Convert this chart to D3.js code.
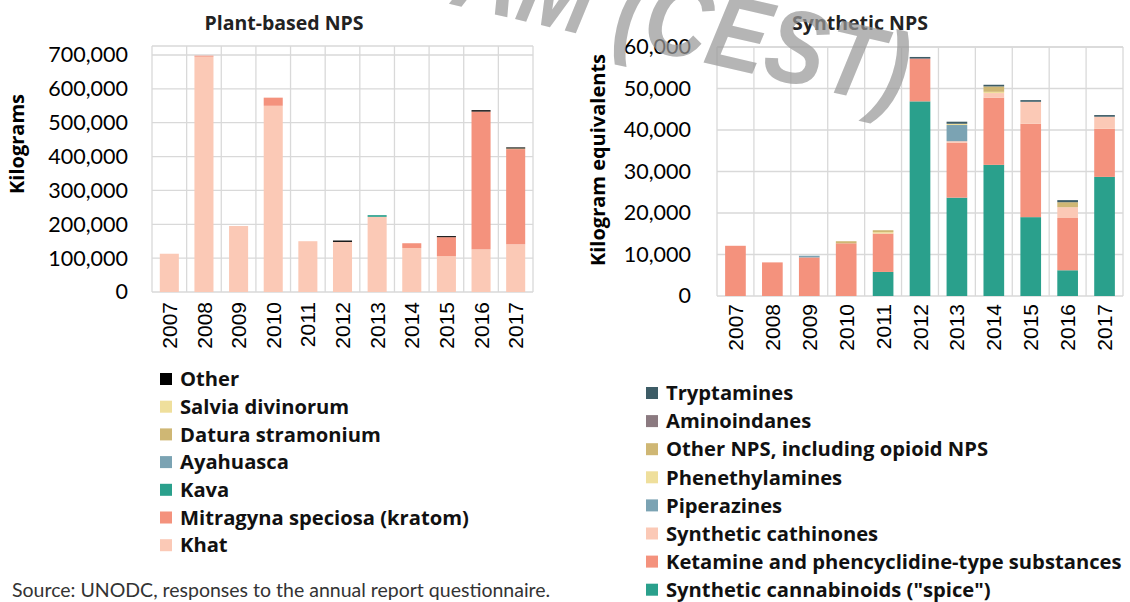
<!DOCTYPE html>
<html>
<head>
<meta charset="utf-8">
<style>
  body { margin: 0; background: white; font-family: "Open Sans", sans-serif; }
  svg { display: block; }
</style>
<script src="https://cdn.jsdelivr.net/npm/d3@7"></script>
</head>
<body>
<svg id="chart" width="1130" height="602"></svg>
<script>

let years = ["2007","2008","2009","2010","2011","2012","2013","2014","2015","2016","2017"]

// plant-based NPS, kilograms (stack order bottom -> top)
let plantNames = ["Khat","Mitragyna speciosa (kratom)","Kava","Ayahuasca","Datura stramonium","Salvia divinorum","Other"]
let khat      = [113000, 695000, 195000, 550000, 150000, 148000, 222000, 130000, 106000, 126000, 141000]
let kratom    = [0, 3000, 0, 24000, 0, 0, 0, 14000, 56000, 407000, 281000]
let kava      = [0, 0, 0, 0, 0, 0, 5000, 0, 0, 0, 0]
let ayahuasca = [0, 0, 0, 0, 0, 0, 0, 0, 0, 0, 0]
let datura    = [0, 0, 0, 0, 0, 0, 0, 0, 0, 0, 2000]
let salvia    = [0, 0, 0, 0, 0, 0, 0, 0, 0, 0, 0]
let plantOther= [0, 0, 0, 0, 0, 4000, 0, 0, 3000, 4000, 3000]
let plantTicks = [0, 100000, 200000, 300000, 400000, 500000, 600000, 700000]

// synthetic NPS, kilogram equivalents
let synthNames = ["Synthetic cannabinoids (\"spice\")","Ketamine and phencyclidine-type substances","Synthetic cathinones","Piperazines","Phenethylamines","Other NPS, including opioid NPS","Aminoindanes","Tryptamines"]
let spice        = [0, 0, 0, 0, 5800, 46900, 23700, 31600, 19000, 6200, 28700]
let ketamine     = [12100, 8100, 9300, 12700, 9250, 10200, 13200, 16200, 22500, 12600, 11600]
let cathinones   = [0, 0, 0, 0, 0, 0, 400, 1100, 5300, 2600, 2900]
let piperazines  = [0, 0, 400, 0, 0, 0, 3900, 0, 0, 0, 0]
let phenethyl    = [0, 0, 0, 0, 350, 0, 300, 300, 0, 0, 0]
let otherNps     = [0, 0, 0, 500, 450, 0, 0, 1300, 0, 1200, 0]
let aminoindanes = [0, 0, 0, 0, 0, 200, 0, 0, 0, 0, 0]
let tryptamines  = [0, 0, 0, 0, 0, 300, 500, 400, 400, 500, 400]
let synthTicks = [0, 10000, 20000, 30000, 40000, 50000, 60000]

let plantColors = ["#fbc9b6","#f4927d","#2aa08c","#7ba3b3","#cfb774","#efdf9c","#000000"]
let synthColors = ["#2aa08c","#f4927d","#fbc9b6","#7ba3b3","#efdf9c","#cfb774","#8b7a80","#3d5c66"]

let svg = d3.select("#chart")
let fmt = d3.format(",")

function toRows(names, cols) {
  return years.map((y, i) => {
    let row = {year: y}
    names.forEach((n, k) => row[n] = cols[k][i])
    return row
  })
}

function drawPanel(cfg) {
  let x = d3.scaleBand().domain(years).range([cfg.x0, cfg.x1])
    .paddingInner(cfg.pad).paddingOuter(cfg.pad / 2)
  let y = d3.scaleLinear().domain([0, cfg.max]).range([cfg.y0, cfg.yTop])

  let g = svg.append("g")

  // grid
  g.selectAll(".hg").data(cfg.ticks).enter().append("line")
    .attr("x1", cfg.x0).attr("x2", cfg.x1)
    .attr("y1", d => y(d)).attr("y2", d => y(d))
    .attr("stroke", "#d9d9d9").attr("stroke-width", 1.3)
  let step = x.step()
  g.selectAll(".vg").data(d3.range(years.length + 1)).enter().append("line")
    .attr("x1", d => cfg.x0 + d * step).attr("x2", d => cfg.x0 + d * step)
    .attr("y1", cfg.borderTop).attr("y2", cfg.y0)
    .attr("stroke", "#d9d9d9").attr("stroke-width", 1.3)
  g.append("line").attr("x1", cfg.x0).attr("x2", cfg.x1)
    .attr("y1", cfg.borderTop).attr("y2", cfg.borderTop)
    .attr("stroke", "#d9d9d9").attr("stroke-width", 1.3)

  // stacked bars
  let rows = toRows(cfg.names, cfg.cols)
  let stack = d3.stack().keys(cfg.names)(rows)
  g.selectAll(".layer").data(stack).enter().append("g")
    .attr("fill", (d, i) => cfg.colors[i])
    .selectAll("rect").data(d => d).enter().append("rect")
    .attr("x", d => x(d.data.year))
    .attr("width", x.bandwidth())
    .attr("y", d => y(d[1]))
    .attr("height", d => y(d[0]) - y(d[1]))

  // y axis labels
  let yAxis = d3.axisLeft(y).tickValues(cfg.ticks).tickFormat(fmt).tickSize(0).tickPadding(0)
  let ya = g.append("g").attr("transform", `translate(${cfg.labelX},0)`).call(yAxis)
  ya.select(".domain").remove()
  ya.selectAll("text").attr("font-family", "Lato").attr("font-size", 21.5).attr("fill", "#000")

  // x axis labels
  let xAxis = d3.axisBottom(x).tickSize(0).tickPadding(0)
  let xa = g.append("g").attr("transform", `translate(0,${cfg.yearY})`).call(xAxis)
  xa.select(".domain").remove()
  xa.selectAll("text")
    .attr("font-family", "Liberation Sans").attr("font-size", 21).attr("fill", "#000")
    .attr("text-anchor", "end").attr("dy", "0.36em").attr("y", 0)
    .attr("transform", "rotate(-90)")

  // titles
  svg.append("text").attr("x", cfg.titleX).attr("y", 30)
    .attr("text-anchor", "middle").attr("font-weight", "bold").attr("font-size", 19.5)
    .attr("fill", "#222").text(cfg.title)
  svg.append("text").attr("transform", `translate(${cfg.axisTitleX},${cfg.axisTitleY}) rotate(-90)`)
    .attr("text-anchor", "middle").attr("font-weight", "bold").attr("font-size", 20)
    .attr("fill", "#000").text(cfg.axisTitle)

  // legend (reverse order, top of stack first)
  let items = cfg.names.map((n, i) => ({name: n, color: cfg.colors[i]})).reverse()
  let lg = svg.append("g")
  let row = lg.selectAll("g").data(items).enter().append("g")
    .attr("transform", (d, i) => `translate(${cfg.legX},${cfg.legY + i * cfg.legStep})`)
  row.append("rect").attr("x", 0).attr("y", -6).attr("width", 12).attr("height", 12)
    .attr("fill", d => d.color)
  row.append("text").attr("x", 20).attr("y", 0).attr("dy", "0.36em")
    .attr("font-weight", "bold").attr("font-size", 20.2).attr("fill", "#111")
    .text(d => d.name)
}

drawPanel({
  names: plantNames, cols: [khat, kratom, kava, ayahuasca, datura, salvia, plantOther],
  colors: plantColors, ticks: plantTicks, max: 700000,
  x0: 152, x1: 533, y0: 292, yTop: 55, borderTop: 46, pad: 0.45,
  labelX: 128, yearY: 302,
  title: "Plant-based NPS", titleX: 284,
  axisTitle: "Kilograms", axisTitleX: 24, axisTitleY: 144,
  legX: 160, legY: 379, legStep: 27.7
})

drawPanel({
  names: synthNames, cols: [spice, ketamine, cathinones, piperazines, phenethyl, otherNps, aminoindanes, tryptamines],
  colors: synthColors, ticks: synthTicks, max: 60000,
  x0: 717, x1: 1123, y0: 296, yTop: 47, borderTop: 47, pad: 0.44,
  labelX: 691, yearY: 304,
  title: "Synthetic NPS", titleX: 860,
  axisTitle: "Kilogram equivalents", axisTitleX: 605, axisTitleY: 160,
  legX: 646, legY: 393, legStep: 28.1
})

svg.append("text").attr("x", 12).attr("y", 597)
  .attr("font-family", "Lato").attr("font-size", 19.5).attr("fill", "#333")
  .text("Source: UNODC, responses to the annual report questionnaire.")

// watermark
svg.append("text").attr("transform", "translate(900,108) rotate(13) scale(0.85,1)")
  .attr("text-anchor", "end").attr("font-family", "Liberation Sans")
  .attr("font-style", "italic").attr("font-weight", "bold").attr("font-size", 105)
  .attr("fill", "#999").attr("fill-opacity", 0.72)
  .text("AM (CEST)")

</script>
</body>
</html>
